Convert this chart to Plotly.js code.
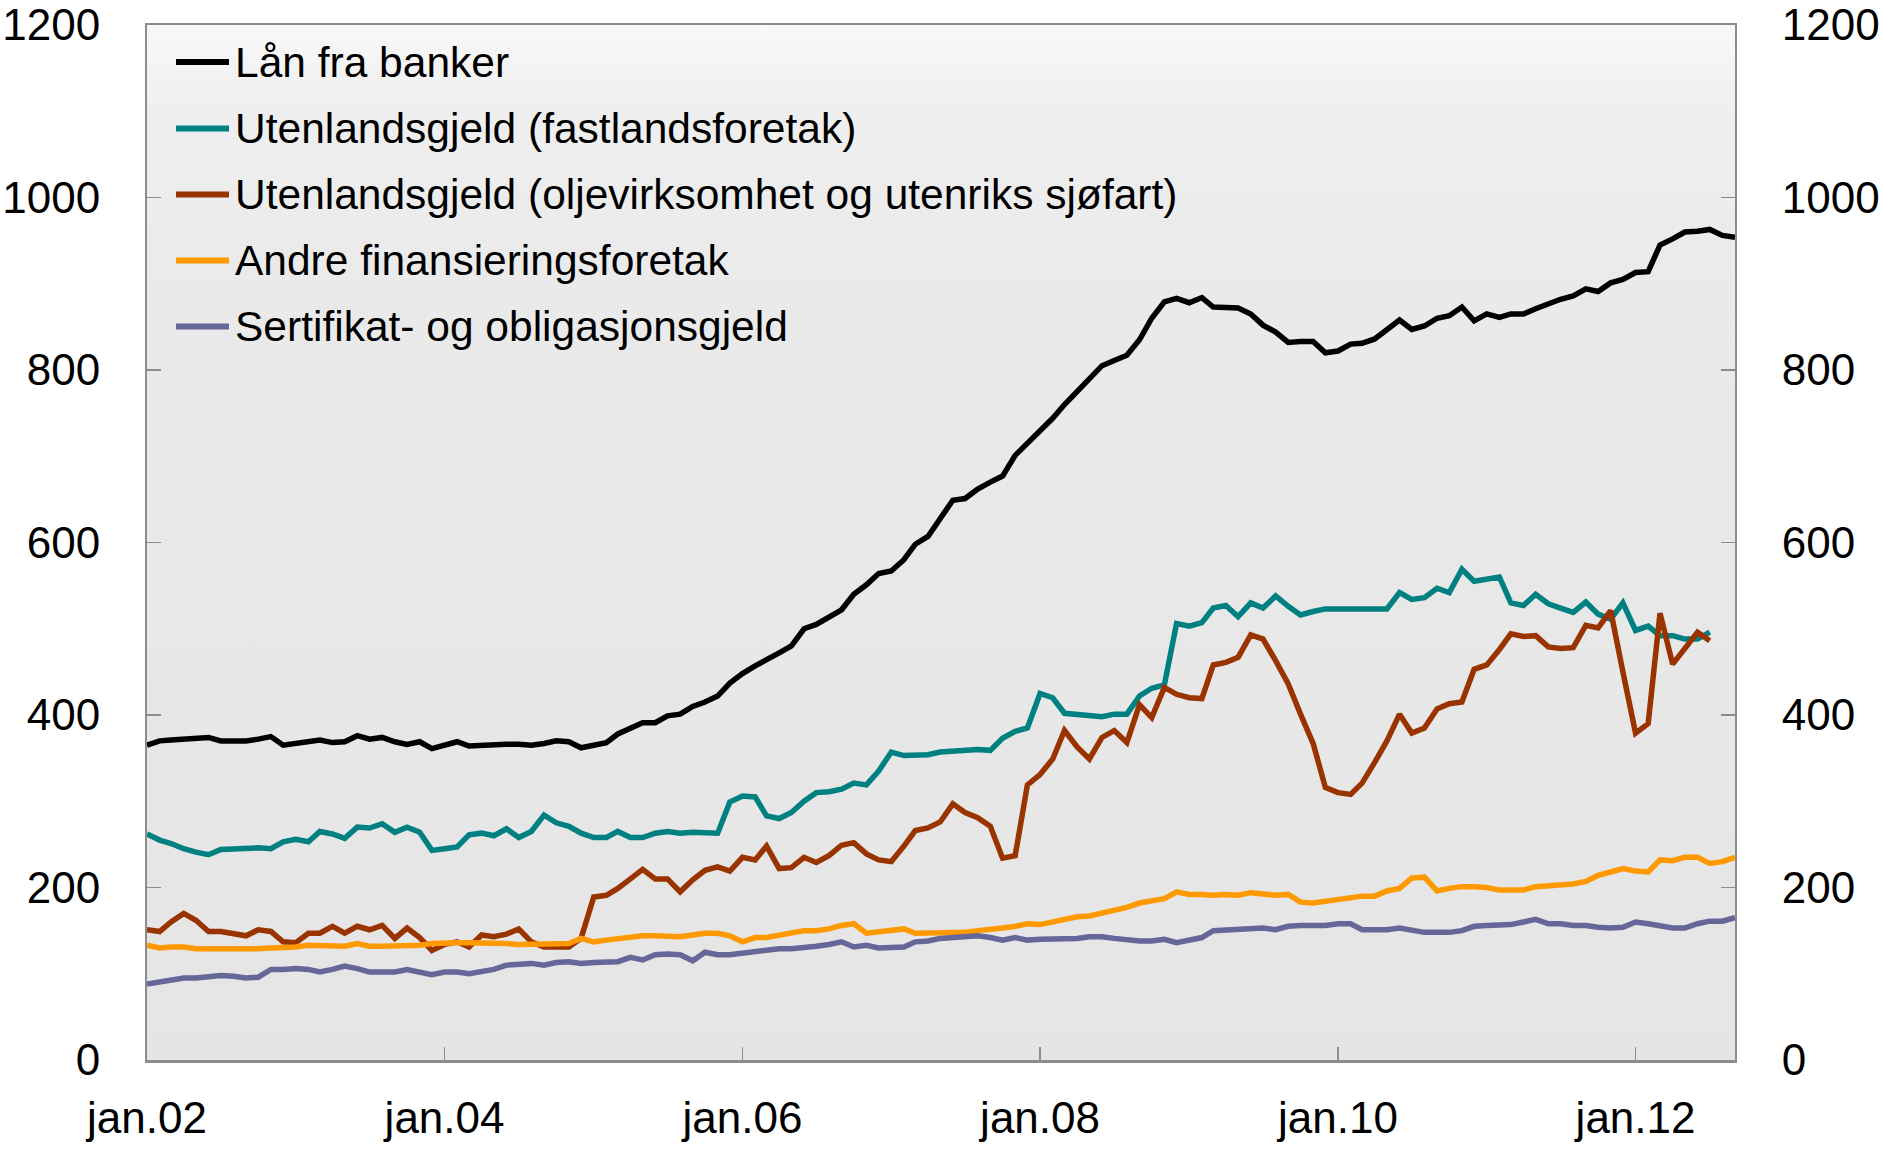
<!DOCTYPE html>
<html>
<head>
<meta charset="utf-8">
<script src="https://cdn.plot.ly/plotly-3.0.1.min.js"></script>
<style>html,body{margin:0;padding:0;background:#fff;}#chart{width:1883px;height:1154px;}</style>
</head>
<body>
<div id="chart"></div>
<script>
// Monthly observations, first month jan.2002
const startYear = 2002;
const seriesNames = [
  "Lån fra banker",
  "Utenlandsgjeld (fastlandsforetak)",
  "Utenlandsgjeld (oljevirksomhet og utenriks sjøfart)",
  "Andre finansieringsforetak",
  "Sertifikat- og obligasjonsgjeld"
];
const lanFraBanker = [
  365,370,371,372,373,374,370,370,370,372,375,365,
  367,369,371,368,369,376,372,374,369,366,369,361,
  365,369,364,365,365,366,366,365,367,370,369,362,
  365,368,378,384,391,391,399,401,410,415,422,437,
  448,457,465,472,480,500,505,513,522,540,551,564,
  567,580,598,607,628,649,651,662,670,677,701,715,
  731,744,760,775,789,805,811,817,835,860,879,883,
  878,884,873,872,872,865,852,844,832,833,833,820,
  822,830,831,836,847,858,847,851,860,863,873,857,
  865,861,865,865,871,877,882,886,894,891,901,905,
  913,914,945,952,960,961,963,956,954
];
const utenlandsFastland = [
  262,255,251,245,241,238,244,245,246,246,245,253,
  256,253,265,262,257,270,269,274,264,270,264,243,
  245,247,261,263,260,268,258,265,284,275,271,263,
  258,258,265,258,258,263,265,263,264,263,263,299,
  306,305,283,280,287,300,310,311,314,321,319,335,
  357,353,354,354,357,358,359,360,359,373,381,385,
  425,420,402,401,400,398,401,401,422,431,435,506,
  503,507,524,527,514,530,524,538,526,516,520,523,
  523,523,522,523,523,542,534,536,547,542,569,555,
  557,560,530,527,540,529,524,519,531,517,511,530,
  498,503,492,492,488,488,496
];
const utenlandsOlje = [
  151,149,160,170,162,149,149,147,144,151,149,137,
  136,147,147,155,147,155,151,156,141,153,142,127,
  134,137,131,145,143,146,152,137,131,131,131,141,
  189,191,199,210,221,210,210,195,209,220,224,219,
  235,232,248,222,223,235,229,237,249,252,239,232,
  230,248,266,269,276,297,287,281,271,234,237,319,
  331,349,382,363,349,374,382,368,412,397,432,424,
  420,419,458,461,467,493,488,463,436,401,367,316,
  310,308,321,345,370,401,379,385,407,413,415,453,
  458,476,494,491,492,479,477,478,504,501,521,450,
  379,390,518,459,476,496,486
];
const andreFinans = [
  133,130,131,131,129,129,129,129,128,129,130,130,
  131,133,133,133,132,135,132,132,132,132,133,135,
  136,136,136,136,135,135,134,134,135,135,135,141,
  137,139,141,142,144,144,143,143,145,147,147,144,
  137,142,142,145,147,150,150,152,156,158,147,149,
  151,152,147,147,148,148,148,150,151,153,155,158,
  157,160,163,166,167,170,174,177,182,185,187,195,
  192,192,191,192,191,194,193,191,192,183,182,184,
  187,188,190,190,196,199,211,212,196,199,201,201,
  200,197,197,197,201,202,203,204,207,214,218,222,
  219,218,232,231,235,235,228,230,235
];
const sertifikatObl = [
  88,90,93,95,95,97,98,97,95,96,105,105,
  106,105,102,105,109,106,102,102,102,105,102,99,
  102,102,100,102,105,110,111,112,110,113,114,112,
  113,113,114,119,116,122,123,122,115,125,122,122,
  124,125,127,129,129,130,132,134,137,131,133,130,
  130,131,137,138,141,142,143,144,142,139,142,139,
  140,140,141,141,143,143,141,139,138,138,140,136,
  139,142,150,151,152,152,153,151,155,156,156,156,
  158,158,151,151,151,153,151,148,148,148,150,155,
  156,156,157,160,163,158,158,156,156,154,153,154,
  160,158,155,153,153,158,161,161,165
];
const tickVals = ["2002-01-01","2004-01-01","2006-01-01","2008-01-01","2010-01-01","2012-01-01"];
const tickText = ["jan.02","jan.04","jan.06","jan.08","jan.10","jan.12"];
const yTicks = [0,200,400,600,800,1000,1200];

function months(n){
  const out=[];
  for(let k=0;k<n;k++){
    const y=startYear+Math.floor(k/12), m=(k%12)+1;
    out.push(y+"-"+(m<10?"0":"")+m+"-01");
  }
  return out;
}

const colors = ["#000000","#008080","#993300","#FF9900","#666699"];
const data = [lanFraBanker, utenlandsFastland, utenlandsOlje, andreFinans, sertifikatObl];
const traces = data.map((vals,k)=>({
  type:"scatter", mode:"lines", name:seriesNames[k], x:months(vals.length), y:vals,
  line:{color:colors[k], width:5.5}, hoverinfo:"skip", showlegend:false
}));
// right-hand axis carrier
traces.push({type:"scatter",mode:"lines",x:months(lanFraBanker.length),y:lanFraBanker,yaxis:"y2",
  line:{width:0,color:"rgba(0,0,0,0)"},showlegend:false,hoverinfo:"skip"});

// plot geometry (px) used for the hand-drawn legend
const W=1883,H=1154,ML=147,MR=148,MT=25,MB=94;
const PW=W-ML-MR, PH=H-MT-MB;
const px=(x)=>(x-ML)/PW, py=(y)=>(H-MB-y)/PH;
const legendRows=[62,128.5,194.5,260.5,326.5];
const shapes=[], annotations=[];
seriesNames.forEach((nm,k)=>{
  shapes.push({type:"line",xref:"paper",yref:"paper",x0:px(176),x1:px(229),y0:py(legendRows[k]),y1:py(legendRows[k]),
    line:{color:colors[k],width:6}});
  annotations.push({xref:"paper",yref:"paper",x:px(233),y:py(legendRows[k]),xanchor:"left",yanchor:"middle",
    text:nm,showarrow:false,font:{family:"'Liberation Sans', Arial, sans-serif",size:42.5,color:"#000"}});
});

const bg = "data:image/svg+xml;utf8,"+encodeURIComponent(
  "<svg xmlns='http://www.w3.org/2000/svg' width='100' height='100' viewBox='0 0 100 100' preserveAspectRatio='none'>"+
  "<defs><linearGradient id='g' x1='0' y1='0' x2='0' y2='1'>"+
  "<stop offset='0' stop-color='#f8f8f8'/><stop offset='0.08' stop-color='#efefef'/>"+
  "<stop offset='0.25' stop-color='#eaeaea'/><stop offset='1' stop-color='#e5e5e5'/>"+
  "</linearGradient></defs><rect width='100' height='100' fill='url(#g)'/></svg>");

const font = {family:"'Liberation Sans', Arial, sans-serif", size:44, color:"#000"};
const axisLine = "#8c8c8c";
const layout = {
  width:W, height:H,
  margin:{l:ML,r:MR,t:MT,b:MB},
  paper_bgcolor:"#ffffff", plot_bgcolor:"#e8e8e8",
  font:font, showlegend:false,
  images:[{source:bg,xref:"paper",yref:"paper",x:0,y:1,sizex:1,sizey:1,xanchor:"left",yanchor:"top",sizing:"stretch",layer:"below"}],
  shapes:shapes, annotations:annotations,
  xaxis:{type:"date",range:["2002-01-01","2012-09-01"],tickvals:tickVals,ticktext:tickText,
    ticks:"inside",ticklen:13,tickwidth:1.5,tickcolor:axisLine,showline:true,linecolor:axisLine,linewidth:2.5,
    mirror:true,showgrid:false,zeroline:false,tickfont:font,ticklabelstandoff:18},
  yaxis:{range:[0,1200],tickvals:yTicks,ticks:"inside",ticklen:14,tickwidth:1.5,tickcolor:axisLine,
    showline:true,linecolor:axisLine,linewidth:2,showgrid:false,zeroline:false,tickfont:font,ticklabelstandoff:36,
    ticklabeloverflow:"allow"},
  yaxis2:{range:[0,1200],tickvals:yTicks,overlaying:"y",side:"right",ticks:"inside",ticklen:14,tickwidth:1.5,
    tickcolor:axisLine,showline:true,linecolor:axisLine,linewidth:2,showgrid:false,zeroline:false,tickfont:font,ticklabelstandoff:36,
    ticklabeloverflow:"allow"}
};
Plotly.newPlot("chart", traces, layout, {staticPlot:true});
</script>
</body>
</html>
